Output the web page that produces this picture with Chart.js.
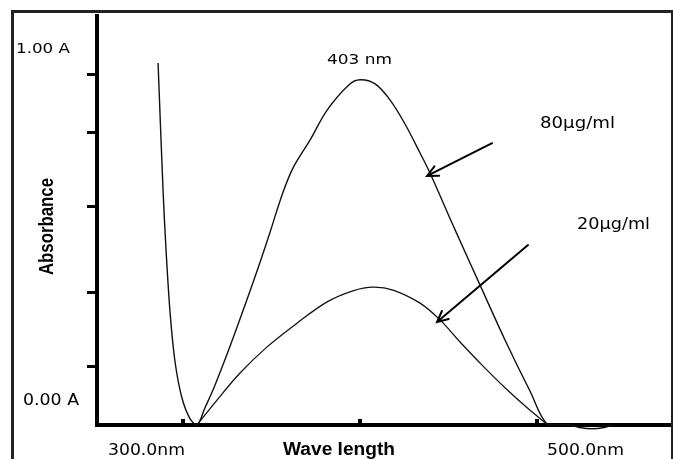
<!DOCTYPE html>
<html>
<head>
<meta charset="utf-8">
<script src="https://cdn.jsdelivr.net/npm/chart.js@4.4.1/dist/chart.umd.min.js"></script>
<style>
  html, body { margin: 0; padding: 0; background: #fff; }
  canvas { display: block; }
</style>
</head>
<body>
<canvas id="spectrum" width="673" height="459"></canvas>
<script>
// Wavelength (nm) and absorbance
const wave80 = [285.9, 288.7, 290.4, 292.7, 295.5, 299.4, 304.0, 307.9, 312.4, 318.1, 326.6, 335.0, 342.4, 349.2, 355.9, 362.1, 371.8, 381.4, 393.8, 400.0, 408.5, 416.9, 425.4, 433.9, 439.5, 453.7, 467.8, 481.9, 496.0, 506.2, 518.0, 524.0, 531.0, 538.0, 543.0];
const abs80 = [0.885, 0.575, 0.428, 0.274, 0.154, 0.066, 0.015, 0, 0.042, 0.098, 0.193, 0.293, 0.384, 0.472, 0.562, 0.628, 0.697, 0.770, 0.832, 0.844, 0.834, 0.795, 0.736, 0.665, 0.616, 0.477, 0.342, 0.208, 0.083, 0, 0, -0.006, -0.009, -0.006, 0];

const wave20 = [307.9, 319.2, 332.2, 347.5, 364.4, 381.4, 396.0, 407.3, 418.6, 433.9, 445.2, 456.5, 469.5, 483.1, 494.4, 506.2];
const abs20 = [0, 0.061, 0.127, 0.191, 0.249, 0.301, 0.328, 0.337, 0.330, 0.298, 0.257, 0.203, 0.144, 0.086, 0.042, 0];

// tick marks (no numbers on them in the original)
const yTicks = [0.142, 0.323, 0.535, 0.714, 0.856];
const xTicks = [300, 400, 500];
const xTickText = ['300.0nm', '500.0nm'];
const yTickText = ['1.00 A', '0.00 A'];

// annotations
const peakText = '403 nm';
const concText = ['80µg/ml', '20µg/ml'];
const arrowFrom = [[474.6, 0.689], [494.9, 0.440]];
const arrowTo = [[437.9, 0.609], [443.5, 0.252]];

// squeeze/stretch a string to the width it has in the scan
function fitText(ctx, text, x, y, w, font) {
    ctx.save();
    ctx.font = font;
    const m = ctx.measureText(text).width;
    ctx.translate(x, y);
    ctx.scale(w / m, 1);
    ctx.fillText(text, 0, 0);
    ctx.restore();
}

function drawArrow(ctx, x1, y1, x2, y2) {
    const ang = Math.atan2(y2 - y1, x2 - x1);
    const head = 12;
    ctx.beginPath();
    ctx.moveTo(x1, y1);
    ctx.lineTo(x2, y2);
    ctx.moveTo(x2 - head * Math.cos(ang - 0.45), y2 - head * Math.sin(ang - 0.45));
    ctx.lineTo(x2, y2);
    ctx.lineTo(x2 - head * Math.cos(ang + 0.45), y2 - head * Math.sin(ang + 0.45));
    ctx.stroke();
}

const decorations = {
    id: 'decorations',
    afterDraw(chart) {
        const ctx = chart.ctx;
        const xs = chart.scales.x;
        const ys = chart.scales.y;
        const area = chart.chartArea;

        ctx.save();
        // frame around the scan
        ctx.strokeStyle = '#222';
        ctx.lineWidth = 3;
        ctx.beginPath();
        ctx.moveTo(12.5, 459);
        ctx.lineTo(12.5, 11.5);
        ctx.lineTo(673, 11.5);
        ctx.stroke();
        ctx.lineWidth = 2;
        ctx.beginPath();
        ctx.moveTo(672, 11);
        ctx.lineTo(672, 459);
        ctx.stroke();

        // small tick squares sitting on the x axis
        ctx.fillStyle = '#000';
        xTicks.forEach(v => {
            const px = Math.round(xs.getPixelForValue(v));
            ctx.fillRect(px - 2, area.bottom - 6, 4, 4);
        });

        // text
        ctx.fillStyle = '#000';
        ctx.textBaseline = 'alphabetic';
        ctx.textAlign = 'left';
        const reg = '15px "DejaVu Sans"';
        fitText(ctx, yTickText[0], 16, 53, 54, '14px "DejaVu Sans"');
        fitText(ctx, yTickText[1], 23, 405, 56, reg);
        fitText(ctx, xTickText[0], 108, 455, 77, '16px "DejaVu Sans"');
        fitText(ctx, xTickText[1], 547, 455, 77, '16px "DejaVu Sans"');
        fitText(ctx, 'Wave length', 283, 455, 112, 'bold 18px "Liberation Sans"');

        ctx.save();
        ctx.translate(53, 275);
        ctx.rotate(-Math.PI / 2);
        fitText(ctx, 'Absorbance', 0, 0, 97, 'bold 21px "Liberation Sans"');
        ctx.restore();

        fitText(ctx, peakText, 327, 64, 65, '14px "DejaVu Sans"');
        fitText(ctx, concText[0], 540, 128, 75, reg);
        fitText(ctx, concText[1], 577, 229, 73, reg);

        // arrows pointing at the two curves
        ctx.strokeStyle = '#000';
        ctx.lineWidth = 2;
        ctx.lineCap = 'round';
        for (let i = 0; i < arrowFrom.length; i++) {
            drawArrow(ctx,
                xs.getPixelForValue(arrowFrom[i][0]), ys.getPixelForValue(arrowFrom[i][1]),
                xs.getPixelForValue(arrowTo[i][0]), ys.getPixelForValue(arrowTo[i][1]));
        }
        ctx.restore();
    }
};

const toPoints = (xsArr, ysArr) => xsArr.map((x, i) => ({ x: x, y: ysArr[i] }));

new Chart(document.getElementById('spectrum'), {
    type: 'line',
    data: {
        datasets: [{
            label: '80µg/ml',
            data: toPoints(wave80, abs80),
            borderColor: '#111',
            borderWidth: 1.4,
            pointRadius: 0,
            fill: false,
            tension: 0.35,
            clip: false
        }, {
            label: '20µg/ml',
            data: toPoints(wave20, abs20),
            borderColor: '#111',
            borderWidth: 1.3,
            pointRadius: 0,
            fill: false,
            tension: 0.35,
            clip: false
        }]
    },
    options: {
        responsive: false,
        animation: false,
        devicePixelRatio: 1,
        layout: { padding: { left: 97, right: 0, top: 16, bottom: 34 } },
        plugins: { legend: { display: false }, tooltip: { enabled: false } },
        scales: {
            x: {
                type: 'linear',
                min: 251.4,
                max: 576.8,
                grid: { display: false },
                ticks: { display: false },
                border: { color: '#000', width: 4 },
                afterFit: s => { s.height = 0; }
            },
            y: {
                type: 'linear',
                min: 0,
                max: 1,
                grid: { display: true, drawOnChartArea: false, drawTicks: true, tickLength: 10, lineWidth: 3, color: '#000' },
                ticks: { display: false },
                border: { color: '#000', width: 4 },
                afterBuildTicks: s => { s.ticks = yTicks.map(v => ({ value: v })); },
                afterFit: s => { s.width = 0; }
            }
        }
    },
    plugins: [decorations]
});
</script>
</body>
</html>
